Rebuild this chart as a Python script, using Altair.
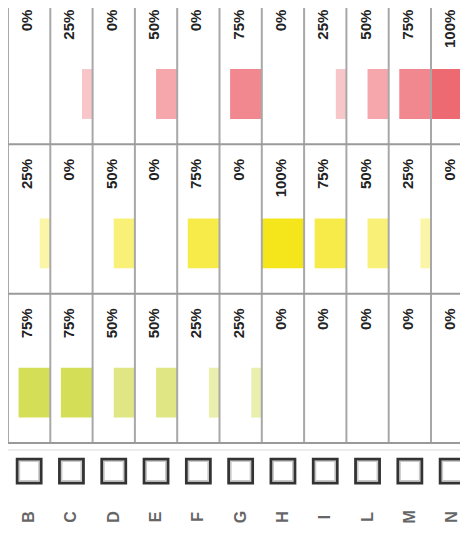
import altair as alt
import pandas as pd

columns = ["B", "C", "D", "E", "F", "G", "H", "I", "L", "M", "N"]
red_vals = [0, 25, 0, 50, 0, 75, 0, 25, 50, 75, 100]
yellow_vals = [25, 0, 50, 0, 75, 0, 100, 75, 50, 25, 0]
green_vals = [75, 75, 50, 50, 25, 25, 0, 0, 0, 0, 0]
series = ["red", "yellow", "green"]
series_colors = ["#ee6a72", "#f4e61a", "#c9d52c"]

recs = []
for r, (s, vals) in enumerate(zip(series, [red_vals, yellow_vals, green_vals])):
    for i, (c, v) in enumerate(zip(columns, vals)):
        recs.append({"col": c, "idx": i, "row": r, "series": s, "value": v, "label": f"{v}%"})
cells = pd.DataFrame(recs)
cols_df = pd.DataFrame({"col": columns, "idx": list(range(len(columns)))})
vlines = pd.DataFrame({"b": list(range(len(columns) + 1))})
hlines = pd.DataFrame({"r": [1, 2, 3]})

X = alt.Scale(domain=[0, 11], range=[0, 465.3], zero=False, nice=False)
Y = alt.Scale(domain=[0, 3], range=[-13, 435], zero=False, nice=False)

bars = alt.Chart(cells).transform_filter("datum.value > 0").transform_calculate(
    x1="datum.idx + 1 - datum.value / 100", x2="datum.idx + 1",
    y1="datum.row + 0.496", y2="datum.row + 0.83"
).mark_rect().encode(
    x=alt.X("x1:Q", scale=X, axis=None), x2="x2:Q",
    y=alt.Y("y1:Q", scale=Y, axis=None), y2="y2:Q",
    color=alt.Color("series:N", scale=alt.Scale(domain=series, range=series_colors), legend=None),
    opacity=alt.Opacity("value:Q", scale=alt.Scale(domain=[0, 100], range=[0.18, 1]), legend=None),
)

vrules = alt.Chart(vlines).transform_calculate(y0="0", y1="3").mark_rule(
    stroke="#a8a8a8", strokeWidth=2
).encode(
    x=alt.X("b:Q", scale=X, axis=None),
    y=alt.Y("y0:Q", scale=Y, axis=None), y2="y1:Q",
)

hrules = alt.Chart(hlines).transform_calculate(x0="0", x1="11").mark_rule(
    stroke="#9a9a9a", strokeWidth=2
).encode(
    y=alt.Y("r:Q", scale=Y, axis=None),
    x=alt.X("x0:Q", scale=X, axis=None), x2="x1:Q",
)

faint = alt.Chart(hlines).transform_filter("datum.r == 3").transform_calculate(
    yy="datum.r + 0.047", x0="0", x1="11"
).mark_rule(stroke="#ececec", strokeWidth=2).encode(
    y=alt.Y("yy:Q", scale=Y, axis=None),
    x=alt.X("x0:Q", scale=X, axis=None), x2="x1:Q",
)

labels = alt.Chart(cells).transform_calculate(
    xc="datum.idx + 0.5", yt="datum.row + 0.098"
).mark_text(
    angle=270, align="right", baseline="middle", font="Liberation Sans",
    fontWeight="bold", fontSize=15, color="#222222", dy=-2
).encode(
    x=alt.X("xc:Q", scale=X, axis=None),
    y=alt.Y("yt:Q", scale=Y, axis=None),
    text="label:N",
)

box_outer = alt.Chart(cols_df).transform_calculate(
    xc="datum.idx + 0.5", yc="3.188"
).mark_point(shape="square", size=576, filled=False, stroke="#333333", strokeWidth=2.8, opacity=1).encode(
    x=alt.X("xc:Q", scale=X, axis=None),
    y=alt.Y("yc:Q", scale=Y, axis=None),
)

box_inner = alt.Chart(cols_df).transform_calculate(
    xc="datum.idx + 0.5", yc="3.188"
).mark_point(shape="square", size=380, filled=False, stroke="#c8c8c8", strokeWidth=1.5, opacity=1).encode(
    x=alt.X("xc:Q", scale=X, axis=None),
    y=alt.Y("yc:Q", scale=Y, axis=None),
)

letters = alt.Chart(cols_df).transform_calculate(
    xc="datum.idx + 0.5", yc="3.495"
).mark_text(
    angle=270, align="center", baseline="middle", font="Liberation Sans",
    fontWeight="bold", fontSize=16, color="#666666"
).encode(
    x=alt.X("xc:Q", scale=X, axis=None),
    y=alt.Y("yc:Q", scale=Y, axis=None),
    text="col:N",
)

chart = alt.layer(
    bars, vrules, hrules, faint, labels, box_inner, box_outer, letters
).properties(
    width=452, height=516, padding=0, autosize="none"
).configure_view(stroke=None)

chart.save("out.html", embed_options={"renderer": "svg", "actions": False})
